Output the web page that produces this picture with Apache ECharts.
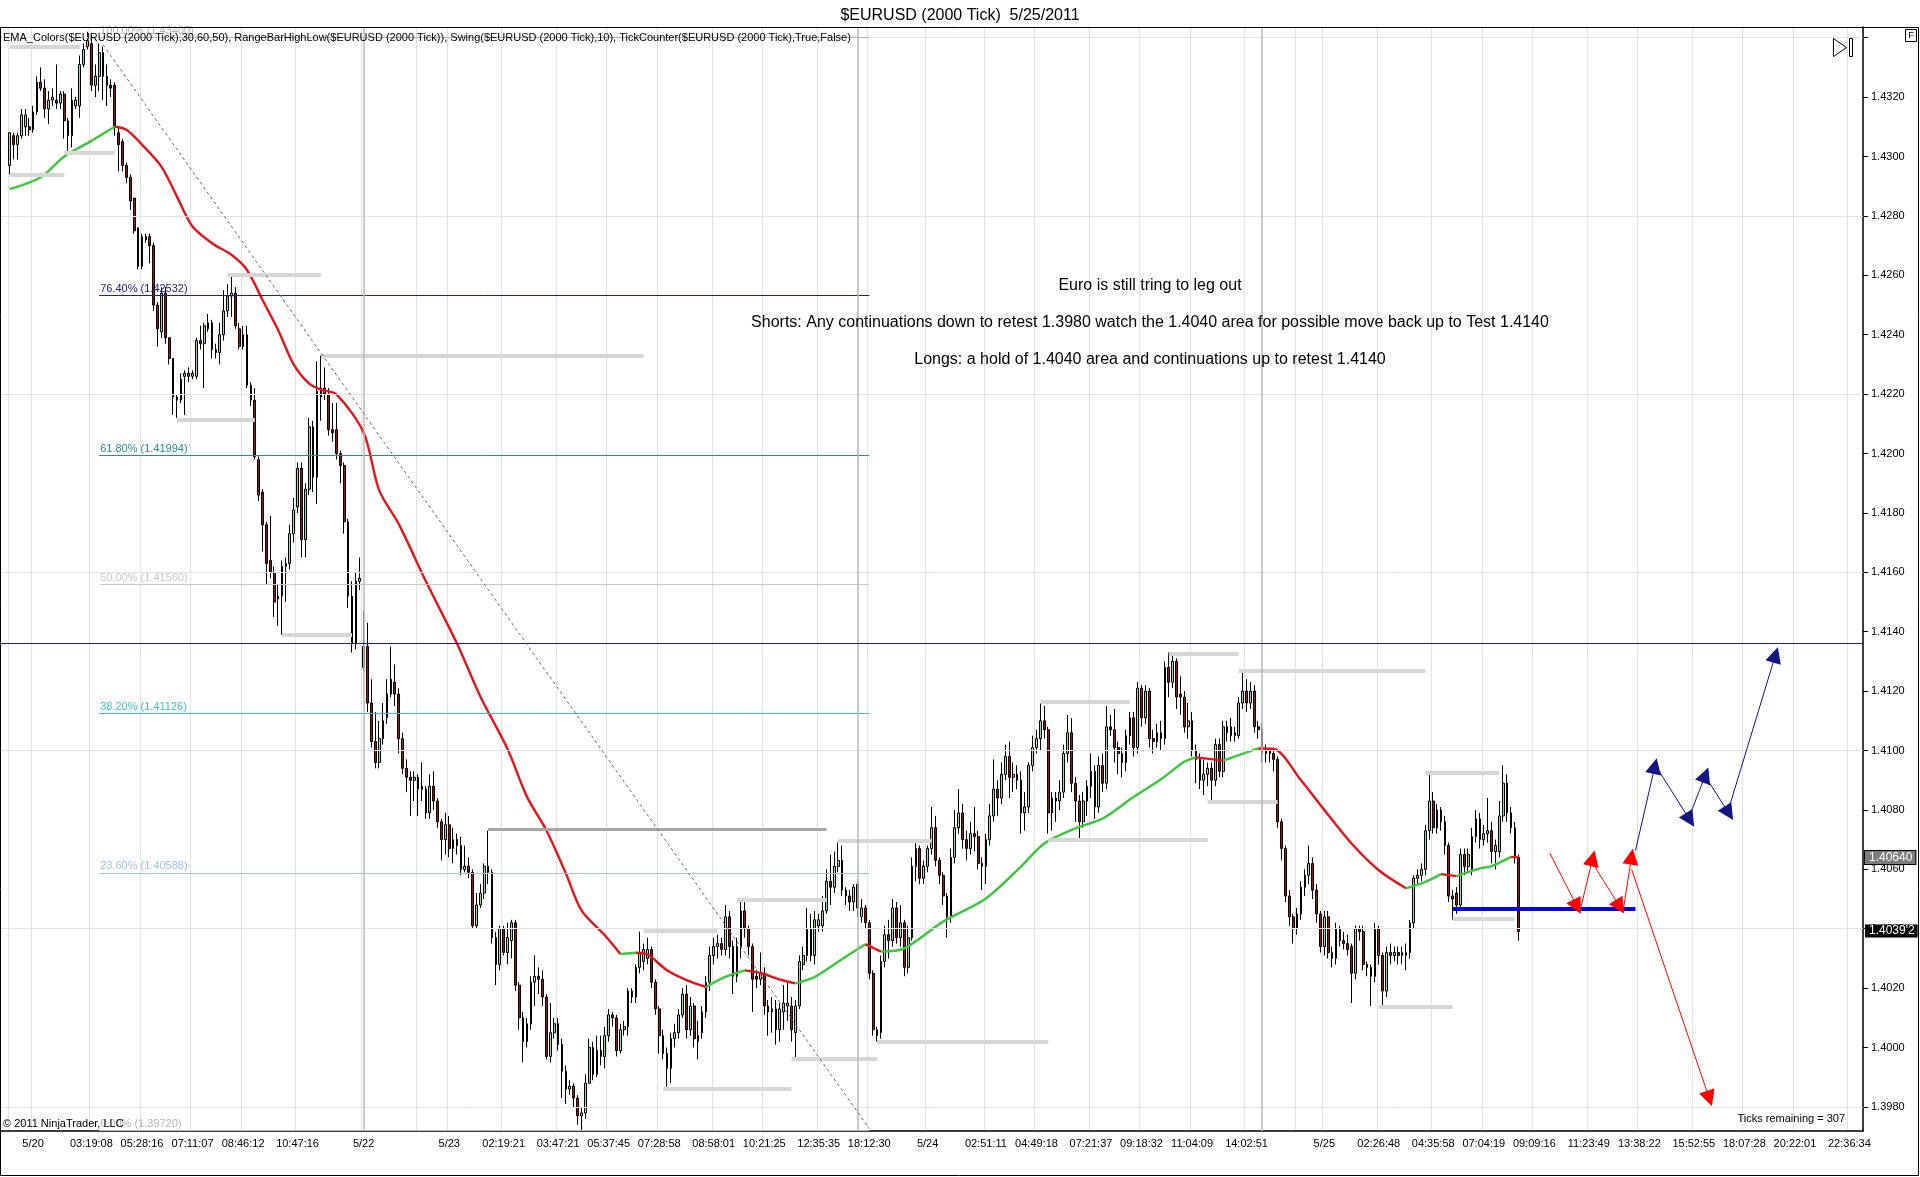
<!DOCTYPE html>
<html>
<head>
<meta charset="utf-8">
<title>$EURUSD (2000 Tick)  5/25/2011</title>
<script src="https://cdn.jsdelivr.net/npm/echarts@6/dist/echarts.min.js"></script>
<style>
    html, body { margin: 0; padding: 0; background: #fff; }
    #chart { width: 1920px; height: 1177px; }
</style>
</head>
<body>
<div id="chart"></div>
<script type="text/javascript">
var FONT = '"Liberation Sans", Arial, sans-serif';

// prices are kept in pips above 1.3900
var PIP_BASE = 1.39;
var CAT_COUNT = 479;     // bar slots on the axis, incl. the empty future part
var FIRST_BAR = 2;       // slot of the first visible bar

var openPips = [
    // 5/20
    397,407,404,407,410,410,409,415,425,423,
    416,419,419,418,421,412,407,417,417,431,
    437,438,424,427,435,427,424,424,408,405,
    397,393,386,376,363,373,373,370,350,341,
    354,339,332,319,318,326,327,326,326,338,
    337,342,344,335,334,340,348,353,354,342,
    336,340,323,318,
    // into 5/22 - 5/23
    298,287,276,264,260,251,252,262,263,273,
    282,295,271,288,309,292,319,322,320,308,
    308,300,296,277,252,236,257,228,235,216,
    203,196,204,211,219,223,219,204,194,191,
    190,191,188,187,179,188,183,176,170,175,
    167,170,168,160,161,159,141,148,152,161,
    159,137,128,140,132,136,142,121,110,102,
    108,122,124,123,117,97,105,108,101,92,
    // 5/23 low
    86,87,83,77,78,88,100,91,99,97,
    104,111,110,99,106,107,117,117,127,129,
    130,133,122,113,104,98,93,103,105,111,
    118,106,114,102,105,112,122,131,134,135,
    133,144,134,124,134,146,140,134,124,123,
    125,114,112,113,106,112,114,114,105,114,
    128,131,140,131,141,141,146,156,154,161,
    163,153,151,149,155,144,147,142,125,106,
    // 5/24
    105,129,138,136,147,137,142,127,137,161,
    167,157,161,167,174,163,158,151,144,164,
    174,179,170,167,172,171,162,161,170,178,
    187,184,192,198,191,192,190,179,181,195,
    201,204,210,207,179,184,183,186,199,206,
    189,183,176,183,188,193,181,195,189,208,
    207,201,199,196,205,211,201,221,211,220,
    204,203,206,204,228,223,230,219,218,208,210,200,
    // 5/24 late - 5/25
    197,190,192,194,190,202,193,206,208,205,
    205,216,220,216,220,208,207,199,200,199,
    197,176,167,151,144,140,145,154,158,162,
    153,145,134,144,132,130,140,136,135,134,
    125,140,139,128,127,124,140,131,119,132,
    131,132,131,131,132,142,157,158,160,173,
    183,174,180,176,168,151,152,148,165,161,
    160,171,177,170,172,173,166,166,178,189,179,174,164
];
var closePips = [
    408,404,407,414,414,409,415,425,423,416,
    419,420,418,421,412,407,419,419,431,436,
    439,424,427,435,427,424,423,410,404,397,
    393,385,375,363,373,372,370,350,342,354,
    339,332,319,318,325,327,326,327,338,337,
    343,344,335,334,340,348,353,354,343,336,
    340,323,318,299,

    286,276,263,260,250,252,262,263,273,281,
    295,271,288,309,292,321,322,320,308,307,
    300,296,277,252,236,257,258,235,216,203,
    196,204,210,219,224,219,204,194,191,190,
    191,187,187,179,188,183,176,170,175,167,
    170,168,160,161,159,141,148,152,161,159,
    137,128,140,132,137,142,121,110,102,108,
    122,124,123,117,97,105,108,101,92,86,

    87,83,77,78,88,100,91,99,97,104,
    111,110,99,106,107,119,119,127,132,133,
    133,122,113,104,98,93,103,105,111,118,
    106,114,103,104,112,122,131,134,135,133,
    144,134,124,134,146,140,134,123,123,125,
    114,112,113,106,113,115,115,106,114,129,
    131,140,131,143,143,146,156,154,161,163,
    153,151,149,154,147,147,142,125,106,104,

    129,138,136,147,137,142,127,137,161,167,
    157,161,167,174,163,158,151,144,164,174,
    179,170,167,172,171,162,161,170,178,187,
    184,192,198,191,192,190,179,181,195,201,
    204,210,207,179,184,183,186,199,206,189,
    183,176,183,188,193,181,195,189,208,207,
    201,199,196,205,211,201,221,211,220,204,
    203,206,204,228,223,230,218,218,208,210,200,197,

    190,192,194,190,202,193,208,208,205,206,
    216,220,216,220,208,207,199,200,199,197,
    176,167,151,144,140,145,154,158,162,153,
    145,134,144,132,130,140,136,135,133,125,
    140,139,128,127,124,140,131,119,132,131,
    132,131,132,132,142,157,158,160,173,183,
    174,180,176,168,151,150,148,165,161,165,
    171,177,170,172,173,166,168,178,189,179,174,164,139
];
var lowPips = [
    394,399,399,406,407,407,408,414,422,413,
    411,417,416,416,406,401,403,416,413,430,
    436,422,420,422,419,417,420,407,395,395,
    391,382,374,362,362,371,364,348,336,339,
    337,330,313,312,317,313,324,325,325,335,
    322,341,332,332,330,338,346,346,342,335,
    335,322,316,298,

    284,267,256,258,245,242,239,250,261,270,
    280,265,265,286,287,283,311,318,306,304,
    298,290,273,248,233,234,254,227,213,201,
    194,194,202,209,218,215,199,192,186,178,
    183,178,183,177,177,180,174,163,165,164,
    162,165,158,159,157,140,140,147,150,155,
    135,121,126,131,128,130,119,106,95,100,
    106,114,118,114,96,95,103,99,83,81,

    84,80,74,72,76,88,89,90,94,93,
    102,107,97,98,104,104,115,115,125,126,
    128,120,111,98,96,86,88,100,103,110,
    103,104,100,96,103,110,119,128,130,131,
    131,130,118,122,130,137,131,112,120,121,
    111,104,105,101,102,106,109,102,96,113,
    126,129,129,128,139,139,145,148,152,159,
    151,148,146,146,144,142,140,123,104,102,

    103,127,130,134,135,134,124,125,136,156,
    155,155,159,165,161,155,148,137,142,162,
    172,167,163,165,166,160,153,155,168,176,
    178,182,190,184,186,187,172,173,179,193,
    199,200,204,172,173,176,180,184,196,186,
    176,170,174,178,184,177,179,186,187,205,
    196,192,191,193,202,198,199,208,209,201,
    199,201,200,202,218,221,214,212,206,204,198,189,

    187,185,188,183,188,191,191,203,203,203,
    204,214,213,214,206,204,196,196,196,193,
    174,163,149,141,135,138,143,151,155,150,
    142,132,131,130,127,128,134,133,131,115,
    123,136,126,124,114,122,128,114,117,128,
    129,128,128,126,130,140,155,156,158,170,
    172,172,173,165,149,143,145,147,158,159,
    158,169,167,168,169,162,160,164,176,176,172,162,136
];
var highPips = [
    408,408,408,416,416,413,417,427,430,426,
    422,423,431,422,422,413,423,420,434,438,
    442,441,431,438,437,431,426,425,410,406,
    398,394,386,376,374,374,374,371,351,356,
    356,339,332,320,327,328,329,328,339,343,
    344,347,345,337,344,355,357,360,356,344,
    343,343,324,322,

    299,288,277,279,262,256,264,265,276,285,
    297,297,290,312,311,331,333,329,322,317,
    317,301,297,278,257,260,265,247,243,224,
    213,210,216,224,235,229,221,206,197,193,
    193,192,196,188,192,193,184,177,179,178,
    174,172,171,168,164,160,152,155,162,173,
    160,139,141,141,142,143,143,122,112,110,
    124,131,127,126,118,115,110,110,103,94,

    89,88,84,80,91,103,102,104,104,107,
    113,112,111,108,109,120,120,128,139,135,
    137,134,123,114,106,100,105,108,113,120,
    121,117,115,109,114,124,134,137,138,137,
    148,146,136,137,149,149,141,135,126,132,
    127,116,117,116,115,121,122,117,116,131,
    134,147,145,146,145,151,160,165,166,169,
    168,154,153,155,156,150,148,143,126,107,

    131,141,143,150,149,148,143,141,164,169,
    168,163,168,181,178,164,159,152,167,180,
    187,182,173,176,181,173,164,172,182,197,
    190,196,202,203,196,195,193,186,196,205,
    207,216,215,208,186,186,190,202,212,211,
    191,185,186,190,199,195,198,199,215,212,
    214,203,201,207,213,213,223,222,222,221,
    207,209,210,230,233,232,231,225,220,216,213,202,

    199,197,196,196,204,204,210,210,211,208,
    218,227,224,223,222,210,209,202,201,201,
    198,177,168,153,145,147,156,160,168,164,
    155,146,146,146,134,142,141,139,138,135,
    141,141,141,129,128,142,141,132,134,135,
    134,134,134,135,143,158,160,162,175,192,
    186,182,181,178,169,153,154,167,167,167,
    174,180,179,175,184,176,170,183,195,192,181,176,165
];

// EMA: bar slot and level (pips)
var emaIdx = [2,10,16,22,29,32,36,41,45,49,54,59,63,67,71,75,79,82,86,93,
    97,102,109,117,123,130,135,140,145,149,155,159,163,166,171,176,181,186,191,195,
    200,204,209,215,222,226,232,242,253,262,268,276,283,291,298,304,307,314,323,327,
    334,340,347,354,361,366,370,374,380,383,388,390];
var emaPips = [389,393,400,404.5,410,409,404,396.6,386.5,376.4,370.8,366.9,361.8,351.7,341.6,330,323.5,321.5,319.9,307,
    287.6,276.3,257,236,218.2,200.5,184.4,173.1,158.6,146.2,137.8,131.5,131.9,131.3,126,122.7,120.4,123.8,126,125.1,
    122.9,121.6,123.8,128.9,134.8,132.3,133.4,142.4,150.2,160.9,168.7,173.8,177.1,184.4,190.3,196.2,197.7,196.6,200.7,200.5,
    190,180,168.7,159.7,153.6,155.8,158.4,157.7,160.3,161.1,164.2,164.0];

// time axis
var tickIdx = [2,8,23,36,49,62,76,93,107,115,129,143,156,169,183,196,210,223,238,253,
    266,280,293,306,320,333,340,354,368,381,394,408,421,435,448,461,475];
var tickText = ['','5/20','03:19:08','05:28:16','07:11:07','08:46:12','10:47:16','5/22','','5/23',
    '02:19:21','03:47:21','05:37:45','07:28:58','08:58:01','10:21:25','12:35:35','18:12:30','5/24','02:51:11',
    '04:49:18','07:21:37','09:18:32','11:04:09','14:02:51','','5/25','02:26:48','04:35:58','07:04:19',
    '09:09:16','11:23:49','13:38:22','15:52:55','18:07:28','20:22:01','22:36:34'];
var dayIdx = [8, 93, 115, 238, 340];
var sessionIdx = [93, 220, 324];

var yMin = 1.39719, yMax = 1.43436;
var gridLevels = [1.3980, 1.4040, 1.4100, 1.4160, 1.4220, 1.4280, 1.4340];

// swing high/low bars: [from slot, to slot, level pips]
var swingBars = [[2,20,437],[2,16,393.8],[16,29,401.3],[58,82,360.1],[45,65,311.3],[82,165,333],
    [72,90,238.9],[170,203,86.2],[203,225,96.3],[225,269,102],[165,184,139.3],[189,212,149.6],
    [215,239,169.6],[267,290,216.4],[269,310,169.9],[300,318,232.7],[318,366,226.8],[310,328,182.7],
    [366,385,192.5],[373,389,143.5],[354,373,113.8]];
var swingDark = [[125,212,173.4]];

// fibonacci retracement
var fibName = ['0.00%','23.60%','38.20%','50.00%','61.80%','76.40%','100.00%'];
var fibPrice = [1.39720,1.40588,1.41126,1.41560,1.41994,1.42532,1.43400];
var fibColor = ['#b4b4b4','#9fc3dc','#3fbfbf','#c8c8c8','#2a8c8c','#23237d','#b4b4b4'];
var fibFrom = 25, fibTo = 223;

var trendLine = [[26, 1.43376], [223, 1.39727]];
var baseLine = 1.41362;
var supportLine = [373, 420, 146.6];

// drawn scenario arrows: [from slot, from pips, to slot, to pips]
var redArrows = [[398,165.4,405,147.4],[406,147.4,409,163.7],[409,162,416,147.4],[417,147.4,419,164.3],[419,160,439,82.8]];
var navyArrows = [[420,166.3,425,194.8],[426,193.2,434,176.6],[434,178.3,438,191.8],[438,191.2,444,178.9],[444,180.5,456,232.2]];

var lastEma = 1.40640, lastPrice = 1.40392;

function px(p) { return +(PIP_BASE + p / 10000).toFixed(5); }

var cats = [];
for (var c = 0; c < CAT_COUNT; c++) cats.push(String(c));
var labelAt = {};
tickIdx.forEach(function (t, k) { labelAt[t] = tickText[k]; });

var candles = [];
for (var k = 0; k < closePips.length; k++) {
    candles.push([FIRST_BAR + k, px(openPips[k]), px(closePips[k]), px(lowPips[k]), px(highPips[k])]);
}

// split the EMA into rising (green) and falling (red) runs
var emaRuns = [];
for (var i = 1; i < emaIdx.length; i++) {
    var up = emaPips[i] >= emaPips[i - 1];
    var run = emaRuns[emaRuns.length - 1];
    if (!run || run.up !== up) {
        run = {up: up, pts: [[emaIdx[i - 1], px(emaPips[i - 1])]]};
        emaRuns.push(run);
    }
    run.pts.push([emaIdx[i], px(emaPips[i])]);
}

function seg(x1, y1, x2, y2, style, label) {
    var a = {coord: [x1, y1], lineStyle: style};
    if (label) a.label = label;
    return [a, {coord: [x2, y2]}];
}

var noteLines = [];
fibPrice.forEach(function (v, n) {
    noteLines.push(seg(fibFrom, v, fibTo, v, {color: fibColor[n], width: 1, type: 'solid'}, {
        show: true, position: 'insideStartTop', distance: 1,
        formatter: fibName[n] + ' (' + v.toFixed(5) + ')',
        color: fibColor[n], fontSize: 11, fontFamily: FONT
    }));
});
swingBars.forEach(function (s) {
    noteLines.push(seg(s[0], px(s[2]), s[1], px(s[2]), {color: '#d6d6d6', width: 4, type: 'solid'}));
});
swingDark.forEach(function (s) {
    noteLines.push(seg(s[0], px(s[2]), s[1], px(s[2]), {color: '#a6a6a6', width: 3, type: 'solid'}));
});
sessionIdx.forEach(function (x) {
    noteLines.push({xAxis: x, lineStyle: {color: '#b8b8b8', width: 1.5, type: 'solid'}});
});
noteLines.push({yAxis: baseLine, lineStyle: {color: '#1c1c8c', width: 1.2, type: 'solid'}});
noteLines.push(seg(trendLine[0][0], trendLine[0][1], trendLine[1][0], trendLine[1][1],
    {color: '#6a6a6a', width: 1, type: [3, 3]}));

function arrowData(list) {
    return list.map(function (a) { return [{coord: [a[0], px(a[1])]}, {coord: [a[2], px(a[3])]}]; });
}

var series = [
    {
        type: 'line', data: [], z: 1, silent: true, clip: false,
        markLine: {
            silent: true, animation: false, precision: 5, symbol: ['none', 'none'], label: {show: false},
            lineStyle: {color: '#e4e4e4', width: 1, type: 'solid'},
            data: gridLevels.map(function (v) { return {yAxis: v}; })
        }
    },
    {
        type: 'line', data: [], z: 2, silent: true, clip: false,
        markLine: {
            silent: true, animation: false, precision: 5, symbol: ['none', 'none'], label: {show: false},
            data: noteLines
        }
    },
    {
        type: 'candlestick', z: 3, silent: true,
        data: candles,
        encode: {x: 0, y: [1, 2, 3, 4]},
        barWidth: 2.2,
        itemStyle: {
            color: '#a3d6a3', color0: '#9a1212',
            borderColor: '#000', borderColor0: '#000', borderWidth: 1
        }
    }
];
emaRuns.forEach(function (r) {
    series.push({
        type: 'line', z: 4, silent: true, data: r.pts, smooth: 0.3,
        showSymbol: false, symbol: 'none',
        lineStyle: {color: r.up ? '#3cc83c' : '#e8141c', width: 2.4}
    });
});
series.push({
    type: 'line', data: [], z: 5, silent: true, clip: false,
    markLine: {
        silent: true, animation: false, precision: 5, symbol: ['none', 'none'], label: {show: false},
        data: [seg(supportLine[0], px(supportLine[2]), supportLine[1], px(supportLine[2]),
            {color: '#0606e0', width: 4, type: 'solid'})]
    }
});
series.push({
    type: 'line', data: [], z: 5, silent: true, clip: false,
    markLine: {
        silent: true, animation: false, precision: 5, symbol: ['none', 'triangle'], symbolSize: 16,
        label: {show: false}, lineStyle: {color: '#ff0000', width: 1, type: 'solid'},
        itemStyle: {color: '#ff0000'},
        data: arrowData(redArrows)
    }
});
series.push({
    type: 'line', data: [], z: 5, silent: true, clip: false,
    markLine: {
        silent: true, animation: false, precision: 5, symbol: ['none', 'triangle'], symbolSize: 16,
        label: {show: false}, lineStyle: {color: '#141482', width: 1, type: 'solid'},
        itemStyle: {color: '#141482'},
        data: arrowData(navyArrows)
    }
});
series.push({
    type: 'line', data: [], z: 6, silent: true, clip: false,
    markLine: {
        silent: true, animation: false, precision: 5, symbol: ['none', 'none'],
        lineStyle: {color: 'rgba(0,0,0,0)', width: 0},
        label: {show: true, position: 'end', distance: 2, fontSize: 12, fontFamily: FONT, padding: [1, 3, 0, 4]},
        data: [
            {yAxis: lastEma, label: {formatter: '1.40640', backgroundColor: '#7c7c7c', color: '#ffffff', borderColor: '#000', borderWidth: 1}},
            {yAxis: lastPrice, label: {formatter: "1.4039'2", backgroundColor: '#000000', color: '#ffffff'}}
        ]
    }
});

var txt = function (x, y, text, size, align, color) {
    return {
        type: 'text', z: 100, silent: true, x: x, y: y,
        style: {
            text: text, font: size + 'px ' + FONT, fill: color || '#000',
            textAlign: align || 'left', align: align || 'left',
            textVerticalAlign: 'middle', verticalAlign: 'middle'
        }
    };
};

var option = {
    animation: false,
    backgroundColor: '#ffffff',
    title: {
        text: '$EURUSD (2000 Tick)  5/25/2011', left: 'center', top: 3,
        textStyle: {fontSize: 16, fontWeight: 'normal', color: '#000', fontFamily: FONT}
    },
    grid: {left: 0, right: 57, top: 27, bottom: 46, containLabel: false},
    xAxis: {
        type: 'category', data: cats, boundaryGap: true,
        axisLine: {lineStyle: {color: '#000', width: 1.5}},
        axisTick: {
            alignWithLabel: true, length: 5, lineStyle: {color: '#000'},
            interval: function (i) { return labelAt.hasOwnProperty(i) && dayIdx.indexOf(i) < 0; }
        },
        axisLabel: {
            interval: function (i) { return labelAt.hasOwnProperty(i); },
            formatter: function (v, i) { return labelAt[i] || ''; },
            fontSize: 11, fontFamily: FONT, color: '#000', margin: 7
        },
        splitLine: {
            show: true, lineStyle: {color: '#e2e2e2', width: 1},
            interval: function (i) { return labelAt.hasOwnProperty(i); }
        }
    },
    yAxis: {
        type: 'value', position: 'right', scale: true,
        min: yMin, max: yMax, splitNumber: 18, minInterval: 0.002, maxInterval: 0.002,
        axisLine: {show: true, lineStyle: {color: '#000', width: 1.5}},
        axisTick: {show: true, length: 5, lineStyle: {color: '#000'}},
        axisLabel: {
            showMinLabel: false, showMaxLabel: false, margin: 8,
            fontSize: 11, fontFamily: FONT, color: '#000',
            formatter: function (v) { return v > 1.433 ? '' : v.toFixed(4); }
        },
        splitLine: {show: false}
    },
    series: series,
    graphic: [
        {type: 'rect', z: 100, silent: true, shape: {x: 0.5, y: 27.5, width: 1918, height: 1148},
            style: {fill: 'none', stroke: '#000', lineWidth: 1}},
        txt(3, 38, 'EMA_Colors($EURUSD (2000 Tick),30,60,50), RangeBarHighLow($EURUSD (2000 Tick)), Swing($EURUSD (2000 Tick),10), TickCounter($EURUSD (2000 Tick),True,False)', 11),
        txt(1150, 286, 'Euro is still tring to leg out', 16, 'center'),
        txt(1150, 323, 'Shorts: Any continuations down to retest 1.3980 watch the 1.4040 area for possible move back up to Test 1.4140', 16, 'center'),
        txt(1150, 360, 'Longs: a hold of 1.4040 area and continuations up to retest 1.4140', 16, 'center'),
        txt(3, 1124, '\u00a9 2011 NinjaTrader, LLC', 11),
        txt(1845, 1119, 'Ticks remaining = 307', 11, 'right'),
        {type: 'rect', z: 100, silent: true, shape: {x: 1905.5, y: 29.5, width: 11, height: 12},
            style: {fill: '#fff', stroke: '#000', lineWidth: 1}},
        txt(1911, 36, 'F', 9, 'center'),
        {type: 'polygon', z: 100, silent: true, shape: {points: [[1833.5, 38.5], [1846.5, 47.5], [1833.5, 56.5]]},
            style: {fill: '#fff', stroke: '#000', lineWidth: 1}},
        {type: 'rect', z: 100, silent: true, shape: {x: 1849.5, y: 38.5, width: 3, height: 18},
            style: {fill: '#fff', stroke: '#000', lineWidth: 1}}
    ]
};

var chart = echarts.init(document.getElementById('chart'));
chart.setOption(option);
</script>
</body>
</html>
